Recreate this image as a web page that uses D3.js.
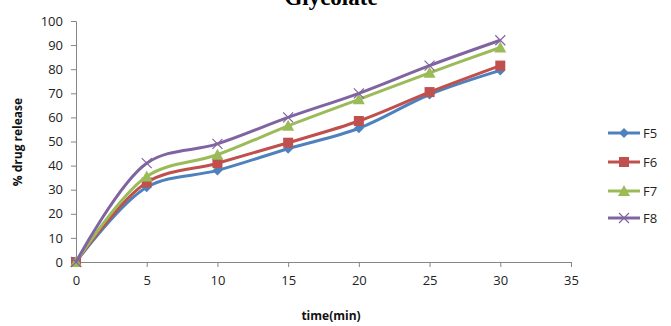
<!DOCTYPE html>
<html>
<head>
<meta charset="utf-8">
<script src="https://cdn.jsdelivr.net/npm/d3@7/dist/d3.min.js"></script>
<style>
  html, body { margin: 0; padding: 0; background: #fff; }
  svg { display: block; }
</style>
</head>
<body>
<svg id="chart" width="671" height="326"></svg>
<script>
// Dissolution profile: % drug release against time for formulations F5–F8
const times = [0, 5, 10, 15, 20, 25, 30];
const F5 = [0, 31, 38, 47, 55.5, 69.5, 79.5];
const F6 = [0, 33, 41, 49.5, 58.5, 70.5, 81.5];
const F7 = [0, 35.5, 44.5, 56.5, 67.5, 78.5, 89];
const F8 = [0, 41, 49, 60, 70, 81.5, 92];
const seriesNames = ["F5", "F6", "F7", "F8"];
const xTicks = [0, 5, 10, 15, 20, 25, 30, 35];
const yTicks = [0, 10, 20, 30, 40, 50, 60, 70, 80, 90, 100];

const series = [
  { name: "F5", values: F5, color: "#4F81BD", marker: "diamond" },
  { name: "F6", values: F6, color: "#C0504D", marker: "square" },
  { name: "F7", values: F7, color: "#9BBB59", marker: "triangle" },
  { name: "F8", values: F8, color: "#8064A2", marker: "cross" }
];

const svg = d3.select("#chart");
const font = "'Open Sans', 'Liberation Sans', sans-serif";

const x = d3.scaleLinear().domain([0, 35]).range([76, 571]);
const y = d3.scaleLinear().domain([0, 100]).range([262, 21]);

// Title (partly above the top edge)
svg.append("text")
  .attr("x", 331).attr("y", 5)
  .attr("text-anchor", "middle")
  .attr("font-family", "'Liberation Serif', 'Times New Roman', serif")
  .attr("font-weight", "bold")
  .attr("font-size", 23)
  .attr("fill", "#000")
  .text("Glycolate");

// Axes
const axisColor = "#868686";
const gx = svg.append("g").attr("transform", `translate(0,${y(0)})`)
  .call(d3.axisBottom(x).tickValues(xTicks).tickSize(5).tickPadding(9).tickFormat(d3.format("d")));
const gy = svg.append("g").attr("transform", `translate(${x(0)},0)`)
  .call(d3.axisLeft(y).tickValues(yTicks).tickSize(5).tickPadding(8).tickFormat(d3.format("d")));
[gx, gy].forEach(g => {
  g.select(".domain").attr("stroke", axisColor);
  g.selectAll(".tick line").attr("stroke", axisColor);
  g.selectAll(".tick text")
    .attr("font-family", font).attr("font-size", 13).attr("fill", "#222");
});

// Axis titles
svg.append("text")
  .attr("x", 331).attr("y", 320)
  .attr("text-anchor", "middle")
  .attr("font-family", font).attr("font-weight", "bold").attr("font-size", 12)
  .attr("fill", "#111")
  .text("time(min)");
svg.append("text")
  .attr("transform", "translate(22,142) rotate(-90)")
  .attr("text-anchor", "middle")
  .attr("font-family", font).attr("font-weight", "bold").attr("font-size", 12)
  .attr("fill", "#111")
  .text("% drug release");

// Marker drawing
function drawMarker(g, type, color, cx, cy) {
  if (type === "diamond") {
    g.append("path").attr("d", `M${cx},${cy - 5}L${cx + 5},${cy}L${cx},${cy + 5}L${cx - 5},${cy}Z`)
      .attr("fill", color);
  } else if (type === "square") {
    g.append("rect").attr("x", cx - 5).attr("y", cy - 5).attr("width", 10).attr("height", 10)
      .attr("fill", color);
  } else if (type === "triangle") {
    g.append("path").attr("d", `M${cx},${cy - 6}L${cx + 6},${cy + 5}L${cx - 6},${cy + 5}Z`)
      .attr("fill", color);
  } else {
    g.append("path").attr("d", `M${cx - 5},${cy - 5}L${cx + 5},${cy + 5}M${cx - 5},${cy + 5}L${cx + 5},${cy - 5}`)
      .attr("stroke", color).attr("stroke-width", 1.2).attr("fill", "none");
  }
}

const line = d3.line()
  .x(d => x(d[0]))
  .y(d => y(d[1]))
  .curve(d3.curveCatmullRom.alpha(0.5));

series.forEach(s => {
  const pts = times.map((t, i) => [t, s.values[i]]);
  svg.append("path")
    .datum(pts)
    .attr("d", line)
    .attr("fill", "none")
    .attr("stroke", s.color)
    .attr("stroke-width", 3)
    .attr("stroke-linejoin", "round");
  const mg = svg.append("g");
  pts.forEach(p => drawMarker(mg, s.marker, s.color, x(p[0]), y(p[1])));
});

// Legend
const legendY = [133, 162, 191, 218];
series.forEach((s, i) => {
  const ly = legendY[i];
  const lg = svg.append("g");
  lg.append("line").attr("x1", 608).attr("x2", 640).attr("y1", ly).attr("y2", ly)
    .attr("stroke", s.color).attr("stroke-width", 3);
  drawMarker(lg, s.marker, s.color, 624, ly);
  lg.append("text").attr("x", 643).attr("y", ly + 5)
    .attr("font-family", font).attr("font-size", 13).attr("fill", "#222")
    .text(seriesNames[i]);
});
</script>
</body>
</html>
